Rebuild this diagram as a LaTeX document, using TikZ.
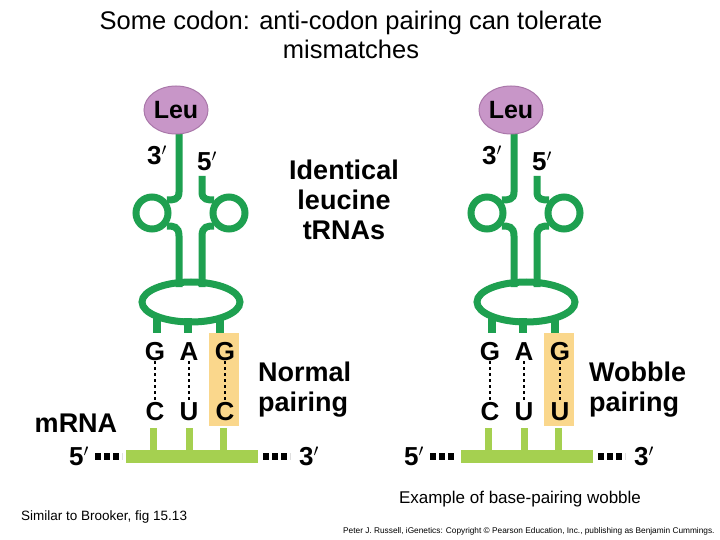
\documentclass[tikz,border=0pt]{standalone}
\usepackage{fontspec}
\usetikzlibrary{shapes.geometric}
\setmainfont{Liberation Sans}
\definecolor{trna}{RGB}{30,160,80}
\definecolor{bar}{RGB}{165,208,80}
\definecolor{hl}{RGB}{250,215,140}
\definecolor{leu}{RGB}{200,150,200}
\definecolor{leub}{RGB}{170,120,170}
\tikzset{
 strand/.style={draw=trna,line width=7pt},
 base/.style={font=\bfseries\fontsize{26}{26}\selectfont,inner sep=0pt},
 lbl/.style={font=\bfseries\fontsize{27}{30}\selectfont,align=left,inner sep=0pt},
 prime/.style={font=\bfseries\fontsize{26}{26}\selectfont,inner sep=0pt},
 pair/.style={dash pattern=on 2.5pt off 3.5pt,line width=1.6pt},
 dots/.style={line width=6.5pt,dash pattern=on 6pt off 3pt},
}
\newcommand{\trnaunit}[2]{%
 \begin{scope}[xshift=#1]
 \fill[hl] (209,333) rectangle (239,426);
 % tRNA
 \draw[strand] (179,133) -- (179,192) .. controls (179,200) and (173,200) .. (167,200);
 \draw[strand] (152,213) circle (16);
 \draw[strand] (167,226) .. controls (173,226) and (179,226) .. (179,236) -- (179,287);
 \draw[strand] (202,176) -- (202,192) .. controls (202,200) and (208,200) .. (214,200);
 \draw[strand] (229,213) circle (16);
 \draw[strand] (214,226) .. controls (208,226) and (202,226) .. (202,236) -- (202,287);
 \draw[strand] (191,302) ellipse (49 and 20);
 \foreach \x in {157,188,220} \draw[strand,line width=8pt] (\x,318) -- (\x,333);
 \node[ellipse,fill=leu,draw=leub,line width=1pt,minimum width=64pt,minimum height=48pt,inner sep=0pt,font=\bfseries\fontsize{25}{25}\selectfont] (leu#2) at (176,110) {Leu};
 \node[prime] (tp#2) at (157,155) {3$'$};
 \node[prime] (fp#2) at (207,161) {5$'$};
 % bases
 \node[base] (g1#2) at (155,352) {G};
 \node[base] (a#2) at (189,352) {A};
 \node[base] (g3#2) at (225,352) {G};
 \node[base] (c1#2) at (155,412) {C};
 \node[base] (u2#2) at (189,412) {U};
 \draw[pair] (g1#2) -- (c1#2);
 \draw[pair] (a#2) -- (u2#2);
 % mRNA
 \fill[bar] (126,450) rectangle (258,463);
 \foreach \x in {153,189,223} \fill[bar] (\x-3.5,428) rectangle (\x+3.5,450);
 \coordinate (dl#2) at (95,456.5);
 \coordinate (dr#2) at (263,456.5);
 \draw[dots] (dl#2) -- ++(27,0);
 \draw[dots] (dr#2) -- ++(27,0);
 \node[prime] (m5#2) at (79,456) {5$'$};
 \node[prime] (m3#2) at (309,456) {3$'$};
 \end{scope}}
\begin{document}
\begin{tikzpicture}[x=1pt,y=-1pt]
\useasboundingbox (0,0) rectangle (720,540);
\fill[white] (0,0) rectangle (720,540);
\node[font=\fontsize{25.5}{29}\selectfont,align=center,inner sep=0pt] (title) at (351,35) {Some codon: anti-codon pairing can tolerate\\mismatches};
\trnaunit{0pt}{L}
\trnaunit{335pt}{R}
\node[base] (c3L) at (225,412) {C};
\draw[pair] (g3L) -- (c3L);
\node[base] (c3R) at (560,412) {U};
\draw[pair] (g3R) -- (c3R);
\node[lbl,align=center] (ident) at (344,200) {Identical\\leucine\\tRNAs};
\node[lbl,anchor=west] (normal) at (258,390) {Normal\\pairing};
\node[lbl,anchor=west] (wobble) at (589,390) {Wobble\\pairing};
\node[font=\bfseries\fontsize{27}{27}\selectfont,inner sep=0pt] (mrna) at (76,423) {mRNA};
\node[font=\fontsize{17}{19}\selectfont,inner sep=0pt] (ex) at (520,499) {Example of base-pairing wobble};
\node[font=\fontsize{13.5}{15}\selectfont,anchor=west,inner sep=0pt] (sim) at (21,517) {Similar to Brooker, fig 15.13};
\node[font=\fontsize{8.3}{9}\selectfont,anchor=west,inner sep=0pt] (copy) at (343,531) {Peter J. Russell, iGenetics: Copyright \textcopyright{} Pearson Education, Inc., publishing as Benjamin Cummings.};
\end{tikzpicture}
\end{document}
